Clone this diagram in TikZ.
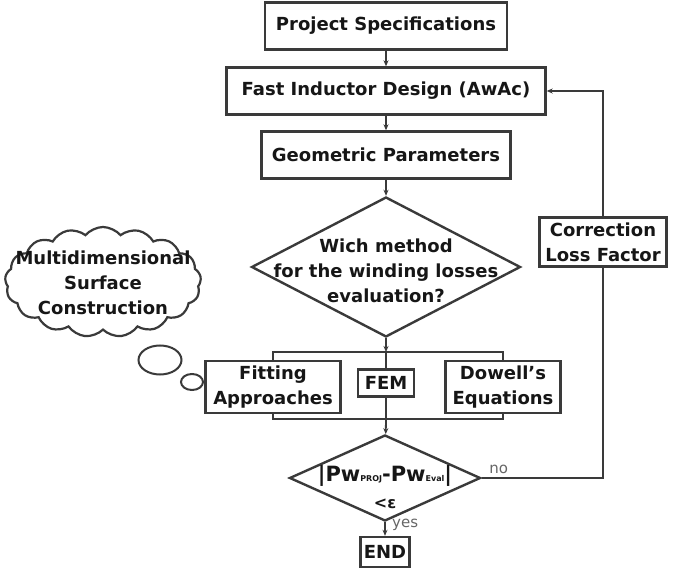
\documentclass[tikz,border=0pt]{standalone}
\usepackage{fontspec}
\setmainfont{DejaVu Sans}
\usetikzlibrary{shapes.geometric,shapes.symbols,arrows.meta}
\definecolor{linegray}{HTML}{3A3A3A}
\definecolor{textgray}{HTML}{161616}
\begin{document}
\begin{tikzpicture}[x=1pt,y=-1pt,
    box/.style={draw=linegray,line width=2.4pt,fill=white,inner sep=0pt,
      text=textgray,font=\fontsize{18}{25}\selectfont\bfseries,align=center},
    decision/.style={diamond,draw=linegray,line width=2.4pt,inner sep=0pt},
    label/.style={text=textgray,font=\fontsize{18}{25}\selectfont\bfseries,align=center},
    link/.style={draw=linegray,line width=1.8pt},
    flow/.style={link,-{Stealth[length=6pt,width=5pt]}},
    answer/.style={text=black!60,font=\fontsize{15}{17}\selectfont}]
    \useasboundingbox (0,0) rectangle (673,569);

    % Main chain
    \node[box,minimum width=242,minimum height=47] (spec) at (386,26) {Project Specifications};
    \node[box,minimum width=319,minimum height=47] (fast) at (386,91) {Fast Inductor Design (AwAc)};
    \node[box,minimum width=249,minimum height=47] (geom) at (386,155) {Geometric Parameters};

    % First decision
    \node[decision,minimum width=269,minimum height=140] (method) at (386,267) {};
    \node[label] (methodtxt) at (386,271) {Wich method\\for the winding losses\\evaluation?};

    % Loss evaluation methods
    \coordinate (split) at (386,352);
    \coordinate (merge) at (386,419);
    \node[box,minimum width=135,minimum height=52] (fit) at (273,387) {Fitting\\Approaches};
    \node[box,minimum width=56,minimum height=27] (fem) at (386,383) {FEM};
    \node[box,minimum width=115,minimum height=52] (dow) at (503,387) {Dowell's\\Equations};

    % Second decision
    \node[decision,minimum width=191,minimum height=86] (check) at (385,478) {};
    \node[text=textgray,font=\bfseries] (checktxt) at (385,476)
      {{\fontsize{21}{22}\selectfont|Pw}{\fontsize{8}{9}\selectfont PROJ}{\fontsize{21}{22}\selectfont-Pw}{\fontsize{8}{9}\selectfont Eval}{\fontsize{21}{22}\selectfont|}};
    \node[text=textgray,font=\fontsize{16}{18}\selectfont\bfseries] (epstxt) at (385,504) {<ε};
    \node[box,minimum width=49,minimum height=30] (end) at (385,552) {END};

    % Feedback
    \node[box,minimum width=127,minimum height=49] (corr) at (603,242) {Correction\\Loss Factor};

    % Cloud note
    \node[cloud,cloud puffs=17,cloud puff arc=100,aspect=1.9,draw=linegray,line width=2.2pt,
      fill=white,minimum width=196,minimum height=110,inner sep=0pt] (note) at (103,282) {};
    \node[label] (notetxt) at (103,283) {Multidimensional\\Surface\\Construction};
    \node[ellipse,draw=linegray,line width=2pt,minimum width=43,minimum height=29,inner sep=0pt] (bubA) at (160,360) {};
    \node[ellipse,draw=linegray,line width=2pt,minimum width=22,minimum height=16,inner sep=0pt] (bubB) at (192,382) {};

    % Connectors
    \draw[flow] (spec) -- (fast);
    \draw[flow] (fast) -- (geom);
    \draw[flow] (geom) -- (method);
    \draw[flow] (method) -- (split);
    \draw[link] (fit.north) |- (split) -| (dow.north);
    \draw[link] (split) -- (fem);
    \draw[link] (fem) -- (merge);
    \draw[link] (fit.south) |- (merge) -| (dow.south);
    \draw[flow] (merge) -- (check);
    \draw[flow] (check) -- (end) node[answer,pos=0.2,right=3pt] {yes};
    \draw[link] (check.east) -| (corr.south) node[answer,pos=0.07,above=0pt] {no};
    \draw[flow] (corr.north) |- (fast.east);
\end{tikzpicture}
\end{document}
